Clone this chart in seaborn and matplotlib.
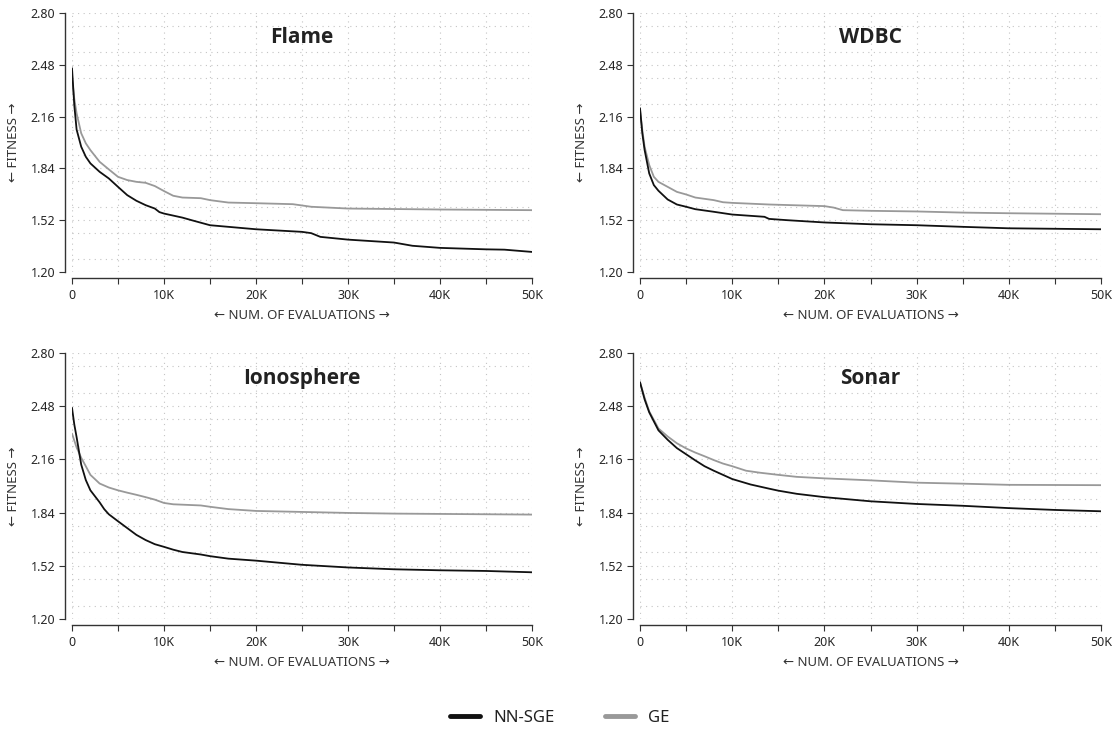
import numpy as np
import pandas as pd
import matplotlib
matplotlib.use("Agg")
import matplotlib.pyplot as plt
from matplotlib.ticker import FixedLocator, MultipleLocator
import seaborn as sns

# ---------------- data ----------------
datasets = ["Flame", "WDBC", "Ionosphere", "Sonar"]
series_names = ["NN-SGE", "GE"]

flame_nn_x = [0, 250, 500, 1000, 1500, 2000, 3000, 4000, 5000, 6000, 7000, 8000, 9000, 9500, 10000,
              12000, 13000, 15000, 20000, 25000, 26000, 27000, 30000, 35000, 37000, 40000, 45000, 47000, 50000]
flame_nn_y = [2.459, 2.230, 2.080, 1.974, 1.912, 1.871, 1.819, 1.778, 1.726, 1.675, 1.640, 1.613, 1.592, 1.570, 1.561,
              1.536, 1.520, 1.489, 1.464, 1.448, 1.440, 1.417, 1.400, 1.382, 1.362, 1.349, 1.340, 1.338, 1.324]
flame_ge_x = [0, 250, 500, 1000, 1500, 2000, 3000, 4000, 5000, 6000, 7000, 8000, 9000, 10000, 11000, 12000,
              14000, 15000, 17000, 20000, 24000, 26000, 30000, 40000, 50000]
flame_ge_y = [2.400, 2.270, 2.180, 2.057, 1.995, 1.953, 1.881, 1.834, 1.788, 1.768, 1.757, 1.751, 1.731, 1.700, 1.671, 1.660,
              1.656, 1.644, 1.629, 1.625, 1.619, 1.603, 1.592, 1.586, 1.582]

wdbc_nn_x = [0, 250, 500, 1000, 1500, 2000, 3000, 4000, 5000, 6000, 8000, 10000, 12000, 13500, 14000, 16000,
             20000, 25000, 30000, 35000, 40000, 50000]
wdbc_nn_y = [2.212, 2.057, 1.954, 1.809, 1.737, 1.702, 1.648, 1.617, 1.603, 1.588, 1.572, 1.555, 1.547, 1.541, 1.528, 1.520,
             1.506, 1.495, 1.489, 1.479, 1.470, 1.464]
wdbc_ge_x = [0, 250, 500, 1000, 1500, 2000, 3000, 4000, 5000, 6000, 8000, 9000, 10000, 14000, 20000, 21000, 22000,
             25000, 30000, 35000, 40000, 50000]
wdbc_ge_y = [2.201, 2.077, 1.974, 1.861, 1.788, 1.757, 1.726, 1.695, 1.679, 1.660, 1.644, 1.631, 1.627, 1.617, 1.607, 1.598, 1.582,
             1.578, 1.574, 1.567, 1.563, 1.557]

iono_nn_x = [0, 250, 500, 1000, 1500, 2000, 3000, 3500, 4000, 5000, 6000, 7000, 8000, 9000, 10000, 11000, 12000, 14000,
             15000, 17000, 20000, 25000, 30000, 35000, 40000, 45000, 50000]
iono_nn_y = [2.470, 2.370, 2.294, 2.129, 2.036, 1.974, 1.902, 1.861, 1.830, 1.788, 1.747, 1.706, 1.675, 1.650, 1.634, 1.617, 1.603, 1.588,
             1.578, 1.563, 1.551, 1.526, 1.510, 1.499, 1.493, 1.489, 1.481]
iono_ge_x = [0, 500, 1000, 1500, 2000, 3000, 4000, 5000, 6000, 7000, 8000, 9000, 10000, 11000, 14000, 15000, 17000,
             20000, 25000, 30000, 35000, 40000, 50000]
iono_ge_y = [2.315, 2.232, 2.170, 2.119, 2.067, 2.015, 1.991, 1.974, 1.960, 1.947, 1.933, 1.918, 1.898, 1.890, 1.883, 1.875, 1.861,
             1.850, 1.844, 1.838, 1.834, 1.832, 1.828]

sonar_nn_x = [0, 500, 1000, 2000, 3000, 4000, 5000, 6000, 7000, 8000, 9000, 10000, 12000, 14000, 15000, 17000,
              20000, 25000, 30000, 35000, 40000, 45000, 50000]
sonar_nn_y = [2.624, 2.521, 2.443, 2.335, 2.278, 2.228, 2.191, 2.154, 2.119, 2.092, 2.067, 2.042, 2.009, 1.984, 1.972, 1.953,
              1.933, 1.908, 1.892, 1.881, 1.867, 1.856, 1.848]
sonar_ge_x = [0, 500, 1000, 2000, 3000, 4000, 5000, 6000, 7000, 8000, 9000, 10000, 11500, 13000, 15000, 17000,
              20000, 25000, 30000, 35000, 40000, 50000]
sonar_ge_y = [2.624, 2.531, 2.449, 2.346, 2.298, 2.257, 2.226, 2.201, 2.179, 2.156, 2.135, 2.119, 2.092, 2.080, 2.067, 2.055,
              2.046, 2.034, 2.020, 2.014, 2.007, 2.005]

x_ticks = [0, 10000, 20000, 30000, 40000, 50000]
x_tick_labels = ["0", "10K", "20K", "30K", "40K", "50K"]
y_ticks = [1.20, 1.52, 1.84, 2.16, 2.48, 2.80]
y_tick_labels = ["1.20", "1.52", "1.84", "2.16", "2.48", "2.80"]
x_label = "← NUM. OF EVALUATIONS →"
y_label = "← FITNESS →"
colors = {"NN-SGE": "#111111", "GE": "#999999"}

curves = {
    "Flame": [(flame_nn_x, flame_nn_y), (flame_ge_x, flame_ge_y)],
    "WDBC": [(wdbc_nn_x, wdbc_nn_y), (wdbc_ge_x, wdbc_ge_y)],
    "Ionosphere": [(iono_nn_x, iono_nn_y), (iono_ge_x, iono_ge_y)],
    "Sonar": [(sonar_nn_x, sonar_nn_y), (sonar_ge_x, sonar_ge_y)],
}

# ---------------- style ----------------
sns.set_theme(style="white")
plt.rcParams["font.family"] = ["Noto Sans", "DejaVu Sans"]
plt.rcParams["axes.edgecolor"] = "#333333"
plt.rcParams["text.color"] = "#222222"

fig = plt.figure(figsize=(11.2, 7.38), dpi=100)
W, H = 1120, 738
boxes = {
    "Flame": (72, 13, 532, 272),
    "WDBC": (640, 13, 1101, 272),
    "Ionosphere": (72, 353, 532, 619),
    "Sonar": (640, 353, 1101, 619),
}

for name in datasets:
    x0, y0, x1, y1 = boxes[name]
    ax = fig.add_axes([x0 / W, 1 - y1 / H, (x1 - x0) / W, (y1 - y0) / H])
    rows = []
    for sname, (xs, ys) in zip(series_names, curves[name]):
        for a, b in zip(xs, ys):
            rows.append({"evals": a, "fitness": b, "method": sname})
    df = pd.DataFrame(rows)
    sns.lineplot(data=df, x="evals", y="fitness", hue="method", hue_order=series_names[::-1],
                 palette=colors, linewidth=1.3, ax=ax, legend=False, estimator=None, sort=True)
    ax.set_xlim(0, 50000)
    ax.set_ylim(1.2, 2.8)
    ax.xaxis.set_major_locator(FixedLocator(x_ticks))
    ax.set_xticklabels(x_tick_labels)
    ax.xaxis.set_minor_locator(MultipleLocator(5000))
    ax.yaxis.set_major_locator(FixedLocator(y_ticks))
    ax.set_yticklabels(y_tick_labels)
    ax.yaxis.set_minor_locator(MultipleLocator(0.16))
    ax.grid(True, which="both", linestyle=(0, (1, 4)), color="#c4c4c4", linewidth=0.8)
    ax.tick_params(axis="x", which="both", direction="out", length=4.5, width=0.8, color="#333333",
                   labelsize=9, pad=3, bottom=True)
    ax.tick_params(axis="y", which="major", direction="out", length=4, width=0.8, color="#333333",
                   labelsize=9, pad=3, left=True)
    ax.tick_params(axis="y", which="minor", length=0)
    for s in ["top", "right"]:
        ax.spines[s].set_visible(False)
    ax.spines["left"].set_position(("outward", 5))
    ax.spines["bottom"].set_position(("outward", 4.5))
    ax.spines["left"].set_linewidth(1.0)
    ax.spines["bottom"].set_linewidth(1.0)
    ax.set_xlabel(x_label, fontsize=9.5, labelpad=5, color="#333333")
    ax.set_ylabel(y_label, fontsize=9.5, labelpad=8, color="#333333")
    ax.text(0.5, 0.905, name, transform=ax.transAxes, ha="center", va="center",
            fontsize=15, fontweight="bold", family=["Open Sans", "DejaVu Sans"], color="#222222")

handles = [plt.Line2D([], [], color=colors[s], linewidth=3.5) for s in series_names]
fig.legend(handles, series_names, loc="center", bbox_to_anchor=(0.5, 0.027), ncol=2, frameon=False,
           fontsize=12, handlelength=1.8, columnspacing=3.0, handletextpad=0.8)

fig.savefig("out.png", dpi=100)
